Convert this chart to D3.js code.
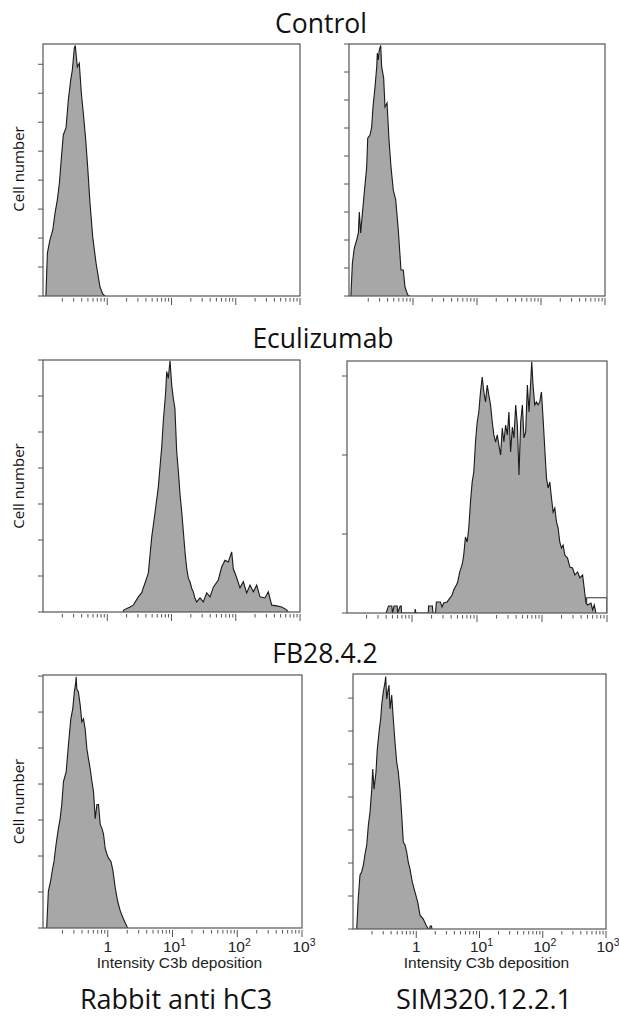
<!DOCTYPE html>
<html><head><meta charset="utf-8">
<script src="https://cdn.jsdelivr.net/npm/d3@7/dist/d3.min.js"></script>
<style>
html,body{margin:0;padding:0;background:#fff;}
svg{display:block;}
</style></head>
<body>
<svg id="chart" width="619" height="1017"></svg>
<script>
// ---------- DATA (intensity, cell count) ----------
const rowTitles = ["Control", "Eculizumab", "FB28.4.2"];
const columnTitles = ["Rabbit anti hC3", "SIM320.12.2.1"];
const yAxisLabel = "Cell number";
const xAxisLabel = "Intensity C3b deposition";
const decadeTicks = [1, 10, 100, 1000];
const decadeBase = ["1", "10", "10", "10"];
const decadeExp = ["", "1", "2", "3"];

const controlRabbit = [[0.111,0],[0.117,14.8],[0.128,19.3],[0.142,22.8],[0.154,28.7],[0.167,33.1],[0.180,39.0],[0.196,49.4],[0.207,55.6],[0.228,58.0],[0.248,67.7],[0.270,74.6],[0.286,78.0],[0.307,85.6],[0.318,86.5],[0.342,79.1],[0.367,80.4],[0.395,70.1],[0.424,63.2],[0.462,53.9],[0.496,44.5],[0.539,32.1],[0.594,20.4],[0.669,11.4],[0.771,3.1],[0.849,0.7],[0.923,0]];

const controlSim = [[0.107,0],[0.113,11.8],[0.121,17.1],[0.132,20.0],[0.140,22.5],[0.145,30.0],[0.152,22.5],[0.162,29.6],[0.173,36.8],[0.189,46.1],[0.196,56.4],[0.213,57.5],[0.226,60.3],[0.237,67.5],[0.255,74.6],[0.271,81.8],[0.277,86.8],[0.287,84.3],[0.297,87.8],[0.313,89.5],[0.324,81.8],[0.348,77.8],[0.365,67.5],[0.393,68.9],[0.422,55.7],[0.453,46.1],[0.492,37.8],[0.537,34.3],[0.589,23.6],[0.649,9.3],[0.705,9.3],[0.750,3.2],[0.826,0.4],[0.898,0]];

const eculizumabRabbit = [[1.75,0],[1.82,0.6],[2.26,1.4],[2.54,1.9],[3.04,4.2],[3.43,5.3],[3.87,8.1],[4.36,10.8],[4.92,20.8],[5.53,27.5],[6.23,34.7],[7.04,45.8],[7.45,52.9],[8.12,61.2],[8.42,66.8],[8.91,64.9],[9.48,69.8],[10.07,63.1],[10.66,59.4],[11.3,56.6],[12.05,44.5],[12.8,39.0],[13.6,32.5],[14.42,27.9],[15.3,22.3],[16.2,16.8],[17.25,12.1],[18.3,9.4],[19.41,8.4],[20.6,6.6],[21.84,5.6],[23.2,3.8],[24.66,2.8],[27.78,3.9],[31.26,2.8],[35.3,5.3],[39.7,4.2],[44.8,6.9],[53.5,8.9],[60.4,12.5],[68.0,14.4],[76.6,13.9],[86.5,16.7],[91.6,12.0],[103.5,9.5],[116.4,6.7],[131.1,8.4],[148.0,5.3],[166.7,7.5],[187.6,5.6],[211.8,7.5],[238.4,4.2],[285.1,3.9],[321.2,5.6],[362.9,1.9],[433.6,1.7],[518.8,1.4],[620.6,0.6],[657.7,0]];

const eculizumabSim = [[0.40,0],[0.435,4.4],[0.49,4.4],[0.50,0],[0.532,4.4],[0.592,4.4],[0.60,0],[0.659,4.4],[0.683,4.4],[0.69,0],[1.10,0],[1.122,2.5],[1.15,0],[1.78,0],[1.80,4.4],[2.06,4.4],[2.10,0],[2.30,0],[2.37,7.0],[2.73,7.0],[2.90,3.8],[3.07,6.3],[3.47,7.0],[4.14,11.4],[4.38,14.6],[4.82,17.7],[5.05,19.6],[5.42,26.0],[5.90,30.4],[6.25,36.7],[6.64,48.1],[7.06,44.9],[7.47,53.8],[7.94,70.3],[8.43,82.9],[8.93,89.3],[9.48,108.2],[10.07,120.9],[10.66,127.2],[11.32,139.9],[12.03,149.4],[12.74,139.9],[13.52,133.6],[14.37,144.3],[15.22,137.8],[16.16,131.7],[17.17,120.9],[18.17,112.7],[19.32,108.2],[20.51,112.7],[21.73,106.3],[23.07,100.0],[24.49,117.1],[25.94,108.2],[27.54,119.0],[29.25,112.7],[30.97,127.2],[32.89,101.9],[34.99,117.7],[36.98,110.8],[39.36,131.7],[41.78,119.0],[44.26,87.4],[46.99,120.9],[49.89,131.7],[52.84,110.8],[56.10,114.6],[59.57,144.3],[63.10,127.2],[66.99,146.2],[69.50,159.0],[72.78,144.3],[77.27,131.7],[82.04,133.6],[86.90,131.7],[92.26,133.6],[98.1,139.9],[103.8,123.4],[110.2,104.4],[117.2,85.5],[123.9,79.1],[131.8,82.9],[140.0,72.8],[148.2,63.9],[157.4,66.5],[167.1,57.6],[177.0,53.8],[187.9,44.9],[199.6,41.1],[211.4,43.0],[224.5,36.7],[247.2,34.8],[268.5,29.1],[295.1,28.5],[320.6,24.1],[353.2,26.0],[383.0,22.2],[421.7,24.1],[445.8,15.8],[474.2,6.3],[503.5,5.1],[566.2,6.3],[601.2,1.9],[636.8,5.1],[676.1,0]];
const eculizumabSimOverflow = [[486,5.5],[486,9.7],[1000,9.7],[1000,0]];

const fb28Rabbit = [[0.114,0],[0.121,10.2],[0.131,13.0],[0.141,16.6],[0.148,18.5],[0.159,23.2],[0.173,27.7],[0.184,30.4],[0.195,34.3],[0.207,40.7],[0.228,43.4],[0.247,50.9],[0.269,58.1],[0.288,60.9],[0.305,65.6],[0.321,68.3],[0.325,69.8],[0.333,66.4],[0.352,65.6],[0.375,62.0],[0.398,57.3],[0.422,58.1],[0.448,55.3],[0.476,49.8],[0.504,47.0],[0.535,44.3],[0.569,40.7],[0.603,37.9],[0.640,30.4],[0.681,34.3],[0.720,34.3],[0.765,28.8],[0.813,27.7],[0.861,26.0],[0.914,22.1],[0.972,20.5],[1.028,19.4],[1.121,18.5],[1.205,15.8],[1.307,11.1],[1.419,7.5],[1.563,4.7],[1.722,2.8],[1.867,1.4],[2.03,0]];

const fb28Sim = [[0.1144,0],[0.121,9.1],[0.129,16.4],[0.137,17.3],[0.146,19.4],[0.155,22.7],[0.165,25.5],[0.175,31.5],[0.186,35.5],[0.198,42.4],[0.205,48.5],[0.215,42.4],[0.231,47.6],[0.242,54.5],[0.261,60.6],[0.274,63.6],[0.284,67.9],[0.301,71.8],[0.321,74.8],[0.329,76.5],[0.341,69.7],[0.354,71.8],[0.371,73.9],[0.385,66.7],[0.409,70.9],[0.434,63.6],[0.461,56.7],[0.491,50.6],[0.520,47.6],[0.553,42.4],[0.589,34.5],[0.624,26.4],[0.664,25.5],[0.706,23.3],[0.748,20.3],[0.796,18.2],[0.867,14.2],[0.955,11.2],[1.054,8.2],[1.146,4.2],[1.292,3.0],[1.426,1.2],[1.552,0],[1.62,0],[1.66,0.9],[1.74,0.9],[1.77,0]];

// ---------- LAYOUT ----------
const panels = [
  {data: controlRabbit,    box:[43,300,44,296],  ymax:87,    step:10, labels:false, ylab:true},
  {data: controlSim,       box:[349,605,44,296], ymax:90,    step:10, labels:false, ylab:false},
  {data: eculizumabRabbit, box:[43,300,360,612], ymax:70,    step:10, labels:false, ylab:true},
  {data: eculizumabSim,    box:[347,607,361,613],ymax:159.5, step:50, labels:false, ylab:false, overflow: eculizumabSimOverflow},
  {data: fb28Rabbit,       box:[43,302,675,928], ymax:70.3,  step:10, labels:true,  ylab:true},
  {data: fb28Sim,          box:[353,606,674,929],ymax:77.3,  step:10, labels:true,  ylab:false}
];
const titlePos = [[321,33],[323,348],[325,663]];
const colTitlePos = [[176,1009],[484,1009]];

const svg = d3.select("#chart");
const titleFont = "'Open Sans', 'Noto Sans', sans-serif";
const axisFont = "'Liberation Sans', Arial, sans-serif";

rowTitles.forEach((t,i)=>{
  svg.append("text").attr("x",titlePos[i][0]).attr("y",titlePos[i][1])
    .attr("text-anchor","middle").attr("font-family",titleFont)
    .attr("font-size",26.5).attr("fill","#111").text(t);
});
columnTitles.forEach((t,i)=>{
  svg.append("text").attr("x",colTitlePos[i][0]).attr("y",colTitlePos[i][1])
    .attr("text-anchor","middle").attr("font-family",titleFont)
    .attr("font-size",27).attr("fill","#111").text(t);
});

const minorVals = [];
[0.1,1,10,100].forEach(d=>{ for(let k=2;k<=9;k++) minorVals.push(d*k); });

panels.forEach((p,pi)=>{
  const [x0,x1,y0,y1] = p.box;
  const x = d3.scaleLog().domain([0.1,1000]).range([x0,x1]);
  const y = d3.scaleLinear().domain([0,p.ymax]).range([y1,y0]);
  const g = svg.append("g");
  const clipId = "clip"+pi;
  g.append("clipPath").attr("id",clipId).append("rect")
    .attr("x",x0).attr("y",y0).attr("width",x1-x0).attr("height",y1-y0);

  const area = d3.area().x(d=>x(d[0])).y0(y(0)).y1(d=>y(Math.min(d[1],p.ymax)));
  const line = d3.line().x(d=>x(d[0])).y(d=>y(Math.min(d[1],p.ymax)));
  const hg = g.append("g").attr("clip-path",`url(#${clipId})`);
  hg.append("path").datum(p.data).attr("d",area).attr("fill","#a7a7a7");
  hg.append("path").datum(p.data).attr("d",line).attr("fill","none")
    .attr("stroke","#1a1a1a").attr("stroke-width",1.1).attr("stroke-linejoin","miter");
  if (p.overflow) {
    hg.append("path").datum(p.overflow).attr("d",line).attr("fill","none")
      .attr("stroke","#333").attr("stroke-width",1.1);
  }

  // frame
  g.append("rect").attr("x",x0).attr("y",y0).attr("width",x1-x0).attr("height",y1-y0)
    .attr("fill","none").attr("stroke","#555").attr("stroke-width",1.2);

  // y ticks
  const yt = d3.range(0, p.ymax+0.001, p.step);
  g.selectAll(".yt").data(yt).join("line")
    .attr("x1",x0-5).attr("x2",x0).attr("y1",d=>y(d)).attr("y2",d=>y(d))
    .attr("stroke","#555").attr("stroke-width",1);

  // x ticks
  g.selectAll(".xm").data(minorVals).join("line")
    .attr("x1",d=>x(d)).attr("x2",d=>x(d)).attr("y1",y1+2).attr("y2",y1+5.5)
    .attr("stroke","#555").attr("stroke-width",1);
  g.selectAll(".xM").data(decadeTicks).join("line")
    .attr("x1",d=>x(d)).attr("x2",d=>x(d)).attr("y1",y1+2).attr("y2",y1+9)
    .attr("stroke","#555").attr("stroke-width",1);

  if (p.labels) {
    decadeTicks.forEach((v,i)=>{
      const t = g.append("text").attr("x",x(v)+(decadeExp[i]?2:0)).attr("y",952)
        .attr("text-anchor","middle").attr("font-family",axisFont)
        .attr("font-size",15.5).attr("fill","#222");
      t.append("tspan").text(decadeBase[i]);
      if (decadeExp[i]) t.append("tspan").attr("dy",-6).attr("font-size",10.5).text(decadeExp[i]);
    });
    g.append("text").attr("x",(x0+x1)/2 + 7).attr("y",968)
      .attr("text-anchor","middle").attr("font-family",axisFont)
      .attr("font-size",15.5).attr("fill","#222").text(xAxisLabel);
  }
  if (p.ylab) {
    g.append("text").attr("transform",`translate(24,${(y0+y1)/2+(pi===0?-1:0)}) rotate(-90)`)
      .attr("text-anchor","middle").attr("font-family",titleFont)
      .attr("font-size",15).attr("fill","#111").text(yAxisLabel);
  }
});
</script>
</body></html>
